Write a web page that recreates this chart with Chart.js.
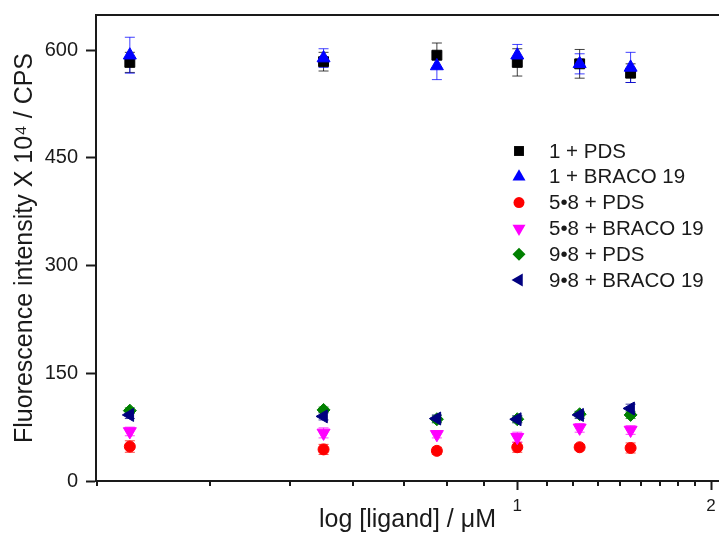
<!DOCTYPE html>
<html>
<head>
<meta charset="utf-8">
<script src="https://cdn.jsdelivr.net/npm/chart.js@4/dist/chart.umd.min.js"></script>
<style>
  html, body { margin: 0; padding: 0; background: #fff; }
</style>
</head>
<body>
<canvas id="fluo" width="719" height="533"></canvas>
<script>
const concentrations = [0.25, 0.5, 0.75, 1, 1.25, 1.5];

const pds1 = [583, 584, 593, 583, 581, 568];
const pds1Err = [14, 13, 17, 19, 20, 13];
const braco1 = [593, 589, 578, 593, 581, 576];
const braco1Err = [25, 13, 19, 15, 14, 21];
const pds58 = [48, 44, 42, 47, 47, 46];
const pds58Err = [8, 7, 5, 7, 4, 7];
const braco58 = [69, 67, 65, 61, 74, 71];
const braco58Err = [6, 7, 5, 7, 6, 6];
const pds98 = [98, 99, 86, 86, 93, 92];
const pds98Err = [4, 4, 5, 4, 4, 5];
const braco98 = [92, 90, 87, 86, 92, 101];
const braco98Err = [5, 5, 5, 5, 5, 6];

const xMajorTicks = [1, 2];
const xMinorTicks = [0.222, 0.333, 0.444, 0.556, 0.667, 0.778, 0.889,
                     1.111, 1.222, 1.333, 1.444, 1.556, 1.667, 1.778, 1.889];
const yTicks = [0, 150, 300, 450, 600];

const FONT = 'Arial, "Liberation Sans", sans-serif';
const INK = '#1a1a1a';

const series = [
  { label: '1 + PDS',          values: pds1,    errors: pds1Err,    color: '#000000', style: 'rect',     rotation: 0,   radius: 7 },
  { label: '1 + BRACO 19',     values: braco1,  errors: braco1Err,  color: '#0000ff', style: 'triangle', rotation: 0,   radius: 7.5 },
  { label: '5\u20228 + PDS',       values: pds58,   errors: pds58Err,   color: '#ff0000', style: 'circle',   rotation: 0,   radius: 5.5 },
  { label: '5\u20228 + BRACO 19',  values: braco58, errors: braco58Err, color: '#ff00ff', style: 'triangle', rotation: 180, radius: 7.5 },
  { label: '9\u20228 + PDS',       values: pds98,   errors: pds98Err,   color: '#008000', style: 'rectRot',  rotation: 0,   radius: 6.5 },
  { label: '9\u20228 + BRACO 19',  values: braco98, errors: braco98Err, color: '#000080', style: 'triangle', rotation: -90, radius: 7.5 }
];

const datasets = series.map((s, i) => ({
  label: s.label,
  data: concentrations.map((x, j) => ({ x: x, y: s.values[j] })),
  errors: s.errors,
  pointStyle: s.style,
  rotation: s.rotation,
  pointRadius: s.radius,
  backgroundColor: s.color,
  borderColor: s.color,
  borderWidth: 1,
  showLine: false,
  order: series.length - i
}));

// keep the plot box fixed: no extra room for the end tick labels
function noPadding(s) {
  s.paddingTop = 0;
  s.paddingBottom = 0;
  s.paddingLeft = 0;
  s.paddingRight = 0;
}

// vertical error bars with small caps, drawn under the markers
const errorBars = {
  id: 'errorBars',
  beforeDatasetsDraw(chart) {
    const ctx = chart.ctx;
    const xs = chart.scales.x, ys = chart.scales.y;
    ctx.save();
    ctx.lineWidth = 1;
    chart.data.datasets.forEach(ds => {
      ctx.strokeStyle = ds.borderColor;
      ctx.globalAlpha = 0.75;
      ds.data.forEach((p, j) => {
        const px = xs.getPixelForValue(p.x);
        const top = ys.getPixelForValue(p.y + ds.errors[j]);
        const bot = ys.getPixelForValue(p.y - ds.errors[j]);
        ctx.beginPath();
        ctx.moveTo(px, top); ctx.lineTo(px, bot);
        ctx.moveTo(px - 5, top); ctx.lineTo(px + 5, top);
        ctx.moveTo(px - 5, bot); ctx.lineTo(px + 5, bot);
        ctx.stroke();
      });
    });
    ctx.restore();
  }
};

// top frame line, minor x ticks and the legend box inside the plot
const frameAndLegend = {
  id: 'frameAndLegend',
  afterDraw(chart) {
    const ctx = chart.ctx;
    const area = chart.chartArea;
    const xs = chart.scales.x;
    ctx.save();
    ctx.strokeStyle = INK;
    ctx.lineWidth = 2;
    ctx.beginPath();
    ctx.moveTo(area.left - 1, area.top);
    ctx.lineTo(area.right, area.top);
    xMinorTicks.forEach(v => {
      const px = Math.round(xs.getPixelForValue(v));
      ctx.moveTo(px, area.bottom);
      ctx.lineTo(px, area.bottom + 5);
    });
    ctx.stroke();

    ctx.font = '20.5px ' + FONT;
    ctx.textBaseline = 'middle';
    ctx.textAlign = 'left';
    chart.data.datasets.forEach((ds, i) => {
      const y = 151 + i * 25.8;
      ctx.fillStyle = ds.backgroundColor;
      Chart.helpers.drawPoint(ctx, {
        pointStyle: ds.pointStyle, rotation: ds.rotation,
        radius: ds.pointRadius, borderWidth: 0
      }, 519, y);
      ctx.fillStyle = INK;
      ctx.fillText(ds.label, 549, y + 1);
    });
    ctx.restore();
  }
};

new Chart(document.getElementById('fluo').getContext('2d'), {
  type: 'scatter',
  data: { datasets: datasets },
  options: {
    responsive: false,
    animation: false,
    layout: { autoPadding: false, padding: { top: 15, right: 0, bottom: 0, left: 0 } },
    plugins: {
      legend: { display: false },
      tooltip: { enabled: false }
    },
    scales: {
      x: {
        type: 'logarithmic',
        min: 0.2215,
        max: 2.058,
        afterBuildTicks: s => { s.ticks = xMajorTicks.map(v => ({ value: v })); },
        afterFit: s => { s.height = 52; noPadding(s); },
        ticks: {
          callback: v => String(v),
          autoSkip: false,
          maxRotation: 0,
          padding: 6,
          color: INK,
          font: { family: FONT, size: 17 }
        },
        grid: { drawOnChartArea: false, tickLength: 9, tickWidth: 2, tickColor: INK },
        border: { display: true, color: INK, width: 2 },
        title: {
          display: true,
          text: 'log [ligand] / \u03bcM',
          color: INK,
          font: { family: FONT, size: 25, lineHeight: 1 },
          padding: { top: 0, bottom: 0 }
        }
      },
      y: {
        min: 0,
        max: 649,
        afterBuildTicks: s => { s.ticks = yTicks.map(v => ({ value: v })); },
        afterFit: s => { s.width = 96; noPadding(s); },
        ticks: {
          padding: 8,
          color: INK,
          font: { family: FONT, size: 20 }
        },
        grid: { drawOnChartArea: false, tickLength: 10, tickWidth: 2, tickColor: INK },
        border: { display: true, color: INK, width: 2 },
        title: {
          display: true,
          text: 'Fluorescence intensity X 10\u2074 / CPS',
          color: INK,
          font: { family: FONT, size: 25, lineHeight: 1 },
          padding: { top: 13, bottom: 0 }
        }
      }
    }
  },
  plugins: [errorBars, frameAndLegend]
});
</script>
</body>
</html>
